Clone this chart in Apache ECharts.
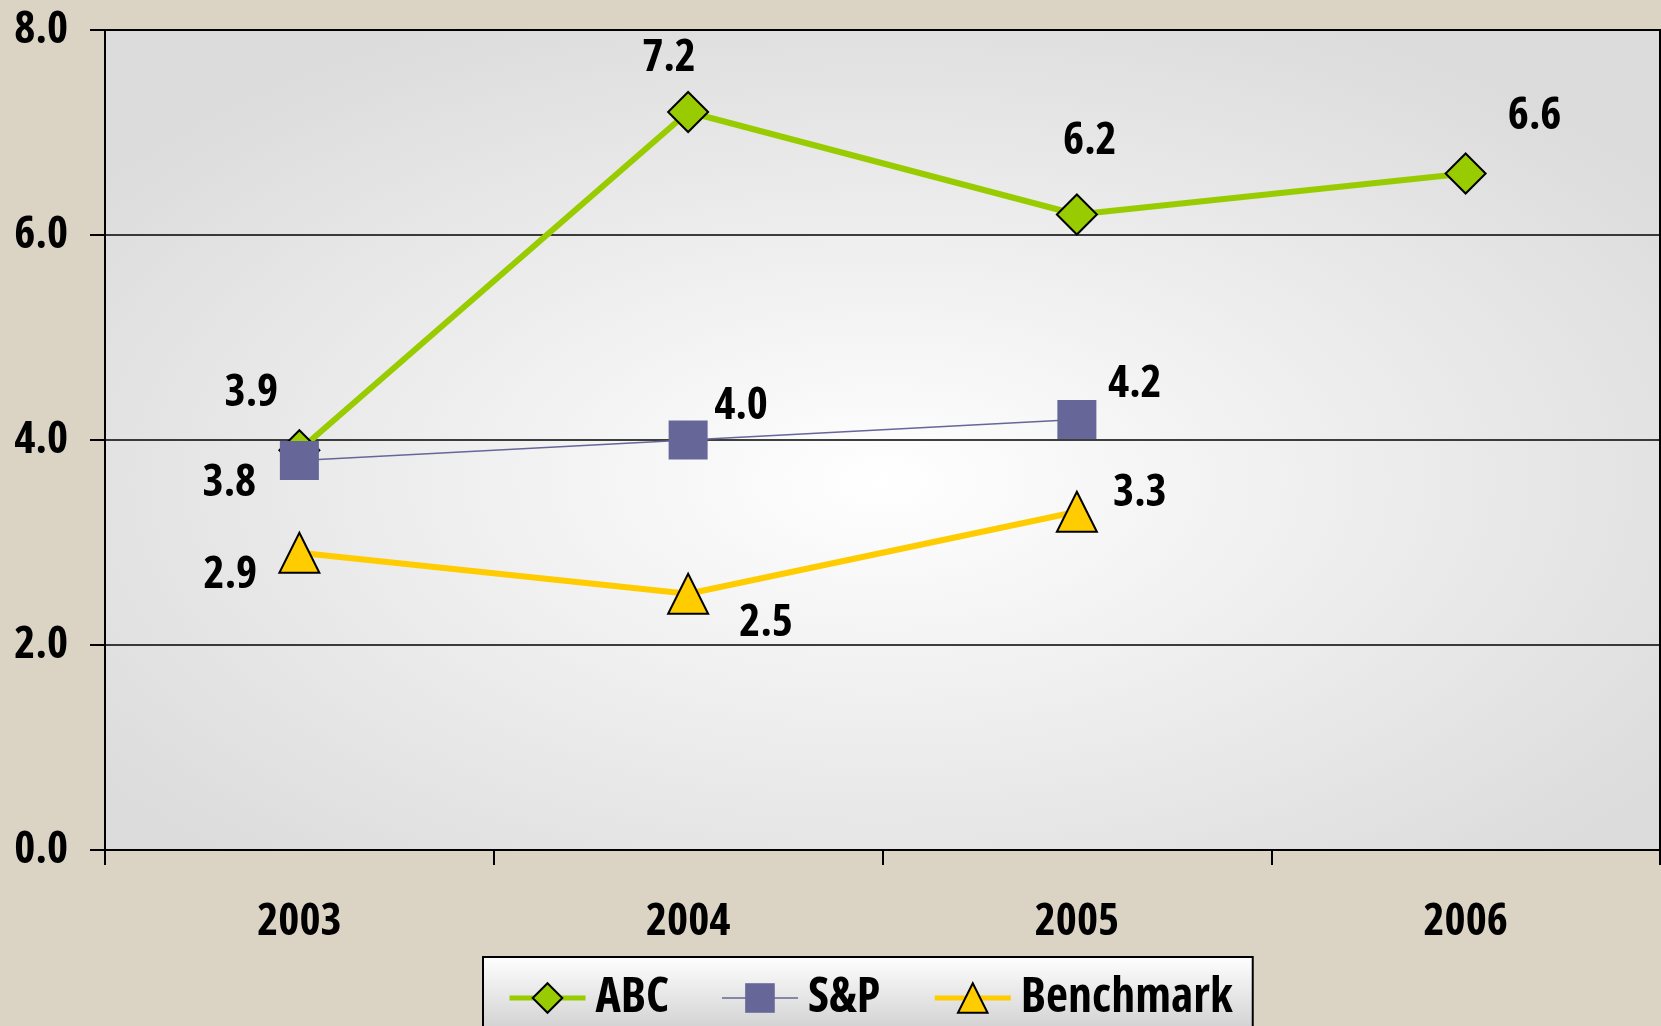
<!DOCTYPE html>
<html>
<head>
<meta charset="utf-8">
<script src="https://cdn.jsdelivr.net/npm/echarts@6/dist/echarts.min.js"></script>
<style>
html,body{margin:0;padding:0;background:#DBD3C3;}
#chart{width:1661px;height:1026px;}
</style>
</head>
<body>
<div id="chart"></div>
<script>
// ---- data ----
const categories = ['2003', '2004', '2005', '2006'];
const abcValues = [3.9, 7.2, 6.2, 6.6];
const spValues = [3.8, 4.0, 4.2, null];
const benchmarkValues = [2.9, 2.5, 3.3, null];
const yTicks = [0, 2, 4, 6, 8];

// ---- label placement (style only) ----
const abcLabelOffsets = [[-48, -57], [-19, -54], [13, -73], [69, -57]];
const spLabelOffsets = [[-70, 23], [53, -34], [58, -35], [0, 0]];
const benchLabelOffsets = [[-69, 22], [78, 29], [63, -19], [0, 0]];

function withOffsets(values, offsets) {
  return values.map((v, i) => ({ value: v, label: { offset: offsets[i] } }));
}

const chart = echarts.init(document.getElementById('chart'), null, { renderer: 'canvas' });

const GL = 105, GT = 30, GW = 1555, GH = 820;
const FONT = "'Open Sans'";
const WEIGHT = 'bold condensed';

const labelStyle = {
  show: true,
  position: 'inside',
  color: '#000',
  fontFamily: FONT,
  fontWeight: WEIGHT,
  fontSize: 45,
  formatter: p => p.value == null ? '' : Number(p.value).toFixed(1)
};

const option = {
  backgroundColor: '#DBD3C3',
  animation: false,
  graphic: [{
    type: 'rect',
    z: -10,
    silent: true,
    x: GL, y: GT,
    scaleX: GW / GH,
    shape: { x: 0, y: 0, width: GH, height: GH },
    style: {
      fill: {
        type: 'radial', x: 0.5, y: 0.55, r: 0.62,
        colorStops: [
          { offset: 0, color: '#FFFFFF' },
          { offset: 0.25, color: '#F6F6F6' },
          { offset: 1, color: '#DCDCDC' }
        ]
      }
    }
  }],
  grid: {
    left: GL, top: GT, width: GW, height: GH,
    show: true,
    backgroundColor: 'transparent',
    borderColor: '#000',
    borderWidth: 2,
    containLabel: false,
    outerBoundsMode: 'none'
  },
  legend: {
    left: 483, top: 957,
    padding: [17, 20, 40, 24],
    itemGap: 52,
    itemWidth: 76,
    itemHeight: 37,
    backgroundColor: {
      type: 'linear', x: 0, y: 0, x2: 0, y2: 1,
      colorStops: [
        { offset: 0, color: '#FFFFFF' },
        { offset: 1, color: '#BDBDBD' }
      ]
    },
    borderColor: '#000',
    borderWidth: 2,
    borderRadius: 0,
    textStyle: {
      color: '#000', fontFamily: FONT, fontWeight: WEIGHT, fontSize: 48,
      padding: [0, 0, 0, 5]
    },
    data: [
      { name: 'ABC', lineStyle: { width: 5 } },
      { name: 'S&P', lineStyle: { width: 1.5 } },
      { name: 'Benchmark', lineStyle: { width: 5 } }
    ]
  },
  xAxis: {
    type: 'category',
    data: categories,
    boundaryGap: true,
    axisLine: { show: true, lineStyle: { color: '#000', width: 2 } },
    axisTick: { show: true, length: 15, inside: false, lineStyle: { color: '#000', width: 2 } },
    axisLabel: {
      margin: 50, color: '#000', fontFamily: FONT, fontWeight: WEIGHT, fontSize: 45
    },
    splitLine: { show: false }
  },
  yAxis: {
    type: 'value',
    min: yTicks[0],
    max: yTicks[yTicks.length - 1],
    interval: yTicks[1] - yTicks[0],
    axisLine: { show: true, lineStyle: { color: '#000', width: 2 } },
    axisTick: { show: true, length: 15, inside: false, lineStyle: { color: '#000', width: 2 } },
    axisLabel: {
      margin: 37, color: '#000', fontFamily: FONT, fontWeight: WEIGHT, fontSize: 45,
      formatter: v => v.toFixed(1)
    },
    splitLine: { show: true, lineStyle: { color: '#000', width: 1.5 } }
  },
  series: [
    {
      name: 'ABC',
      type: 'line',
      data: withOffsets(abcValues, abcLabelOffsets),
      symbol: 'diamond',
      symbolSize: 40,
      lineStyle: { color: '#99CC00', width: 6 },
      itemStyle: { color: '#99CC00', borderColor: '#000', borderWidth: 2 },
      label: labelStyle,
      z: 2
    },
    {
      name: 'S&P',
      type: 'line',
      data: withOffsets(spValues, spLabelOffsets),
      symbol: 'rect',
      symbolSize: 39,
      lineStyle: { color: '#666699', width: 1.5 },
      itemStyle: { color: '#666699', borderWidth: 0 },
      label: labelStyle,
      z: 3
    },
    {
      name: 'Benchmark',
      type: 'line',
      data: withOffsets(benchmarkValues, benchLabelOffsets),
      symbol: 'triangle',
      symbolSize: [40, 40],
      lineStyle: { color: '#FFCC00', width: 6 },
      itemStyle: { color: '#FFCC00', borderColor: '#000', borderWidth: 2 },
      label: labelStyle,
      z: 4
    }
  ]
};

chart.setOption(option);
</script>
</body>
</html>
